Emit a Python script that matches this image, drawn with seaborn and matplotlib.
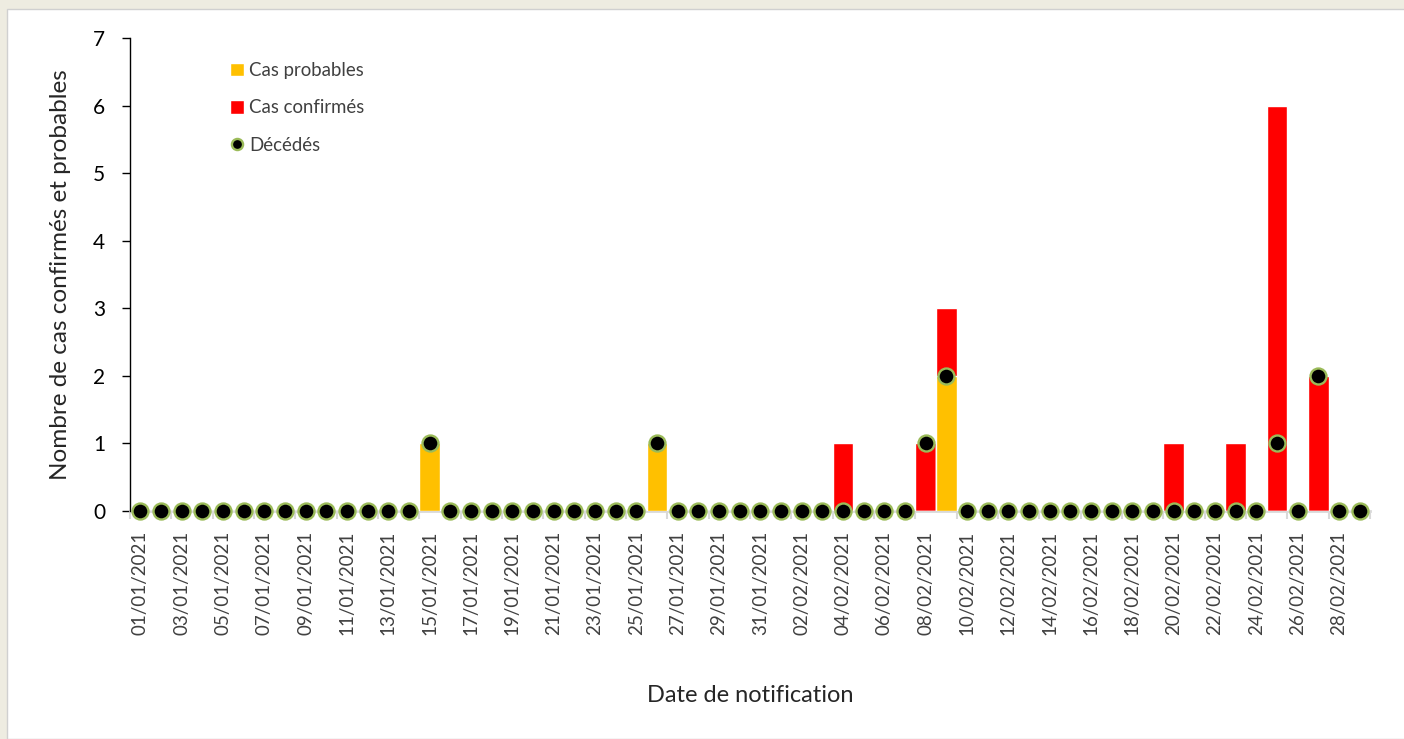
import numpy as np
import pandas as pd
import matplotlib
matplotlib.use("Agg")
import matplotlib.pyplot as plt
import seaborn as sns
from matplotlib.patches import Rectangle
from matplotlib.lines import Line2D

# notification dates, 01/01/2021 -> 01/03/2021
dates = pd.date_range("2021-01-01", "2021-03-01").strftime("%d/%m/%Y").tolist()

probables = [0, 0, 0, 0, 0, 0, 0, 0, 0, 0,
             0, 0, 0, 0, 1, 0, 0, 0, 0, 0,
             0, 0, 0, 0, 0, 1, 0, 0, 0, 0,
             0, 0, 0, 0, 0, 0, 0, 0, 0, 2,
             0, 0, 0, 0, 0, 0, 0, 0, 0, 0,
             0, 0, 0, 0, 0, 0, 0, 0, 0, 0]
confirmes = [0, 0, 0, 0, 0, 0, 0, 0, 0, 0,
             0, 0, 0, 0, 0, 0, 0, 0, 0, 0,
             0, 0, 0, 0, 0, 0, 0, 0, 0, 0,
             0, 0, 0, 0, 1, 0, 0, 0, 1, 1,
             0, 0, 0, 0, 0, 0, 0, 0, 0, 0,
             1, 0, 0, 1, 0, 6, 0, 2, 0, 0]
deces = [0, 0, 0, 0, 0, 0, 0, 0, 0, 0,
         0, 0, 0, 0, 1, 0, 0, 0, 0, 0,
         0, 0, 0, 0, 0, 1, 0, 0, 0, 0,
         0, 0, 0, 0, 0, 0, 0, 0, 1, 2,
         0, 0, 0, 0, 0, 0, 0, 0, 0, 0,
         0, 0, 0, 0, 0, 1, 0, 2, 0, 0]

df = pd.DataFrame({"date": dates, "prob": probables, "conf": confirmes, "dec": deces})
df["total"] = df["prob"] + df["conf"]

sns.set_style("white")
plt.rcParams["font.family"] = ["Lato", "DejaVu Sans"]

fig = plt.figure(figsize=(14.04, 7.39), dpi=100, facecolor="#EEECE1")
bg = Rectangle((7 / 1404, 0), 1, 1 - 9 / 739, transform=fig.transFigure,
               facecolor="white", edgecolor="#D0D0D0", lw=1, zorder=-10)
fig.add_artist(bg)
ax = fig.add_axes([130 / 1404, 1 - 511 / 739, 1240 / 1404, 473 / 739])
ax.set_facecolor("none")

# stacked bars: total in red, probable on top of it from 0
sns.barplot(data=df, x="date", y="total", order=dates, color="#FF0000",
            width=1.0, saturation=1, ax=ax, zorder=2)
sns.barplot(data=df, x="date", y="prob", order=dates, color="#FFC000",
            width=1.0, saturation=1, ax=ax, zorder=2)
sns.pointplot(data=df, x="date", y="dec", order=dates, color="black",
              linestyle="none", marker="o", markersize=11.5,
              markeredgecolor="#9BBB59", markeredgewidth=1.7, ax=ax, zorder=4)
for ln in ax.lines:
    ln.set_markeredgecolor("#9BBB59")
    ln.set_markerfacecolor("black")
    ln.set_clip_on(False)

ax.set_xlim(-0.5, len(dates) - 0.5)
ax.set_ylim(0, 7)
ax.set_yticks(range(0, 8))
ax.tick_params(axis="y", length=6, width=1, color="black", labelsize=15, pad=12,
               left=True, labelcolor="black")

ax.set_xticks(range(0, len(dates), 2))
ax.set_xticklabels(dates[::2], rotation=90, fontsize=13.5, color="#404040")
ax.set_xticks(np.arange(-0.5, len(dates), 2), minor=True)
ax.tick_params(axis="x", which="major", length=0, pad=14)
ax.tick_params(axis="x", which="minor", length=6, width=1.5, color="#D9D9D9", bottom=True)

for s in ["top", "right"]:
    ax.spines[s].set_visible(False)
ax.spines["left"].set_color("black")
ax.spines["left"].set_linewidth(1)
ax.spines["bottom"].set_color("#D9D9D9")
ax.spines["bottom"].set_linewidth(2)
ax.spines["bottom"].set_zorder(1)

ax.set_ylabel("Nombre de cas confirmés et probables", fontsize=17.5, labelpad=16)
ax.set_xlabel("Date de notification", fontsize=17, labelpad=36)

handles = [Rectangle((0, 0), 1, 1, facecolor="#FFC000"),
           Rectangle((0, 0), 1, 1, facecolor="#FF0000"),
           Line2D([], [], linestyle="none", marker="o", markersize=8,
                  markerfacecolor="black", markeredgecolor="#9BBB59", markeredgewidth=1.7)]
leg = ax.legend(handles, ["Cas probables", "Cas confirmés", "Décédés"],
                loc="upper left", bbox_to_anchor=(0.067, 0.985), frameon=False,
                fontsize=13.4, handlelength=0.75, handleheight=0.75, handletextpad=0.3,
                labelspacing=1.1)
for t in leg.get_texts():
    t.set_color("#404040")

fig.savefig("out.png", dpi=100, facecolor=fig.get_facecolor())
